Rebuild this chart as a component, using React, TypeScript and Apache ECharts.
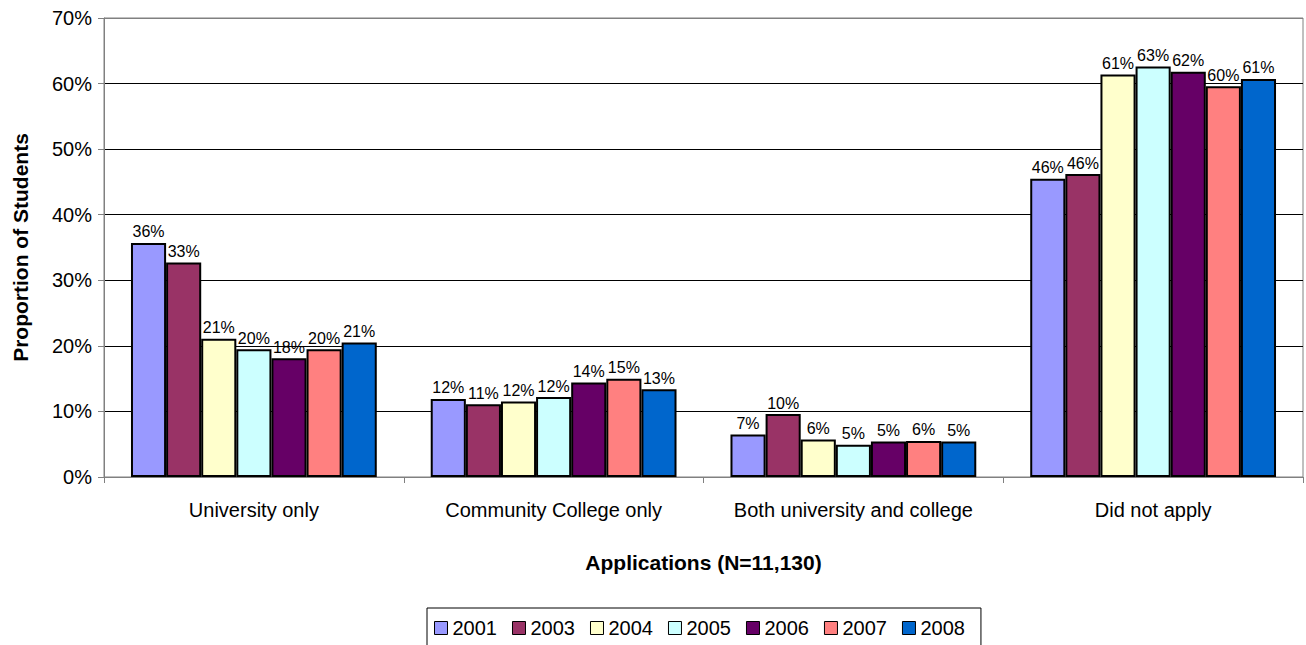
import React, { useEffect, useRef } from "react";
import * as echarts from "echarts";

const categories = ["University only", "Community College only", "Both university and college", "Did not apply"];
const years = ["2001", "2003", "2004", "2005", "2006", "2007", "2008"];
const colors = ["#9999FF", "#993366", "#FFFFCC", "#CCFFFF", "#660066", "#FF8080", "#0066CC"];
const v2001 = [35.7, 11.9, 6.5, 45.5];
const v2003 = [32.7, 11.1, 9.6, 46.2];
const v2004 = [21.1, 11.5, 5.7, 61.4];
const v2005 = [19.5, 12.2, 4.9, 62.6];
const v2006 = [18.1, 14.4, 5.4, 61.8];
const v2007 = [19.5, 15.0, 5.5, 59.6];
const v2008 = [20.5, 13.4, 5.4, 60.7];
const seriesValues = [v2001, v2003, v2004, v2005, v2006, v2007, v2008];
const yTicks = [0, 10, 20, 30, 40, 50, 60, 70];

const FONT = "'Liberation Sans', Arial, sans-serif";

export default function App() {
  const ref = useRef<HTMLDivElement>(null);
  useEffect(() => {
    if (!ref.current) return;
    const chart = echarts.init(ref.current, undefined, { renderer: "svg" });
    const splitColors = yTicks.map((t, i) => (i === yTicks.length - 1 || i === 0 ? "#808080" : "#000000"));
    chart.setOption({
      animation: false,
      textStyle: { fontFamily: FONT },
      grid: { left: 104, right: 3, top: 18, bottom: 168, show: true, borderColor: "#808080", borderWidth: 1 },
      legend: {
        data: years,
        left: 427,
        top: 608,
        orient: "horizontal",
        icon: "rect",
        itemWidth: 13,
        itemHeight: 13,
        itemGap: 15,
        padding: [10, 16, 12, 7],
        borderColor: "#000",
        borderWidth: 1,
        textStyle: { fontSize: 20, color: "#000", fontFamily: FONT },
        itemStyle: { borderColor: "#000", borderWidth: 1 },
      },
      xAxis: {
        type: "category",
        data: categories,
        name: "Applications (N=11,130)",
        nameLocation: "middle",
        nameGap: 75,
        nameTextStyle: { fontSize: 21, fontWeight: "bold", color: "#000", fontFamily: FONT },
        axisLine: { lineStyle: { color: "#808080", width: 1 } },
        axisTick: { show: true, length: 6, lineStyle: { color: "#808080" } },
        axisLabel: { fontSize: 20, color: "#000", margin: 23, interval: 0, fontFamily: FONT },
      },
      yAxis: {
        type: "value",
        min: 0,
        max: 70,
        interval: 10,
        name: "Proportion of Students",
        nameLocation: "middle",
        nameGap: 73,
        nameTextStyle: { fontSize: 21, fontWeight: "bold", color: "#000", fontFamily: FONT },
        axisLine: { show: true, lineStyle: { color: "#808080", width: 1 } },
        axisTick: { show: true, length: 6, lineStyle: { color: "#808080" } },
        axisLabel: { fontSize: 20, color: "#000", margin: 12, formatter: (v: number) => v + "%", fontFamily: FONT },
        splitLine: { show: true, lineStyle: { color: splitColors, width: 1 } },
      },
      series: years.map((y, i) => ({
        name: y,
        type: "bar",
        data: seriesValues[i],
        barGap: "0%",
        barCategoryGap: "18%",
        itemStyle: { color: colors[i], borderColor: "#000", borderWidth: 2 },
        label: {
          show: true,
          position: "top",
          distance: 3,
          fontSize: 16,
          color: "#000",
          fontFamily: FONT,
          formatter: (p: any) => Math.round(p.value) + "%",
        },
      })),
    });
    return () => chart.dispose();
  }, []);
  return <div ref={ref} style={{ width: 1306, height: 645, position: "absolute", left: 0, top: 0 }} />;
}
